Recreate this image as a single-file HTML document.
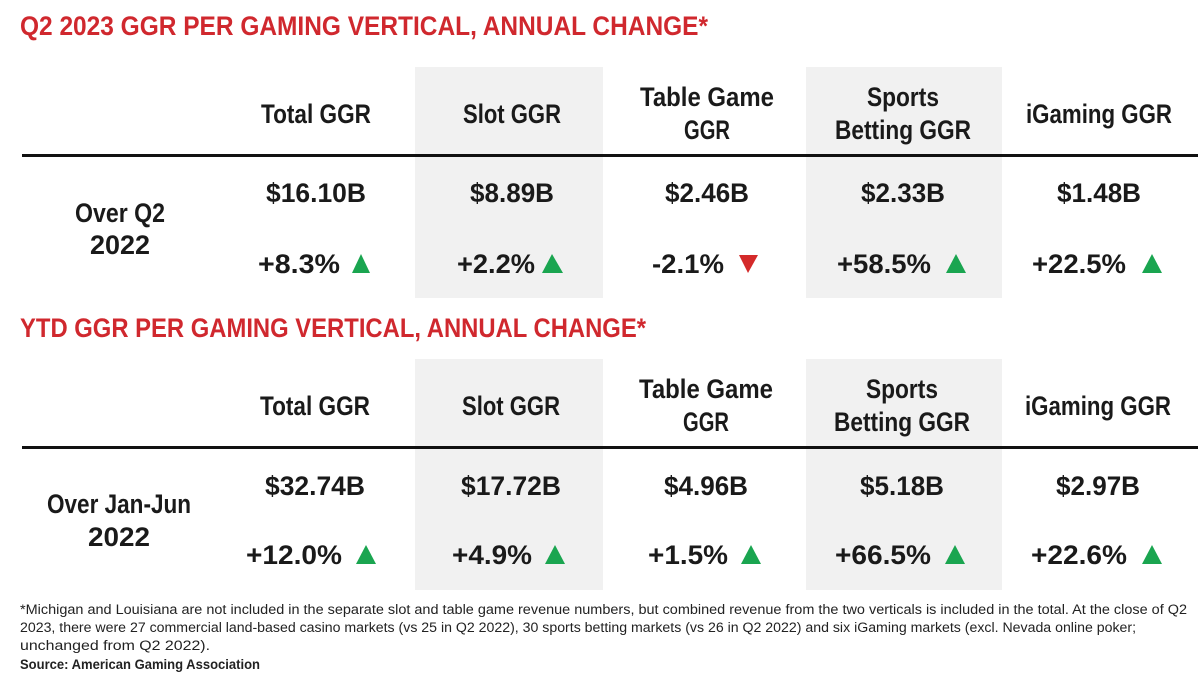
<!DOCTYPE html>
<html><head><meta charset="utf-8"><style>
html,body{margin:0;padding:0;background:#fff;}
svg{display:block;}
text{font-family:"Liberation Sans Narrow","Liberation Sans",sans-serif;font-weight:bold;fill:#1a1a1a;}
.t{fill:#d0282e;font-size:27px;}
.h{font-size:27px;text-anchor:middle;}
.v{font-size:27px;text-anchor:middle;}
.f{font-weight:normal;font-size:13.5px;fill:#222;}
</style></head><body>
<svg width="1200" height="686" viewBox="0 0 1200 686" xmlns="http://www.w3.org/2000/svg">
<rect x="415" y="67" width="188" height="231" fill="#f1f1f1"/>
<rect x="806" y="67" width="196" height="231" fill="#f1f1f1"/>
<rect x="415" y="359" width="188" height="231" fill="#f1f1f1"/>
<rect x="806" y="359" width="196" height="231" fill="#f1f1f1"/>
<rect x="22" y="154" width="1176" height="3" fill="#111"/>
<rect x="22" y="446" width="1176" height="3" fill="#111"/>

<text class="t" x="20" y="35" textLength="688" lengthAdjust="spacingAndGlyphs">Q2 2023 GGR PER GAMING VERTICAL, ANNUAL CHANGE*</text>
<text class="h" x="316" y="123" textLength="110" lengthAdjust="spacingAndGlyphs">Total GGR</text>
<text class="h" x="512" y="123" textLength="98" lengthAdjust="spacingAndGlyphs">Slot GGR</text>
<text class="h" x="707" y="106" textLength="134" lengthAdjust="spacingAndGlyphs">Table Game</text>
<text class="h" x="707" y="139" textLength="46" lengthAdjust="spacingAndGlyphs">GGR</text>
<text class="h" x="903" y="106" textLength="72" lengthAdjust="spacingAndGlyphs">Sports</text>
<text class="h" x="903" y="139" textLength="136" lengthAdjust="spacingAndGlyphs">Betting GGR</text>
<text class="h" x="1099" y="123" textLength="146" lengthAdjust="spacingAndGlyphs">iGaming GGR</text>
<text class="h" x="120" y="222" textLength="90" lengthAdjust="spacingAndGlyphs">Over Q2</text>
<text class="h" x="120" y="254" textLength="60" lengthAdjust="spacingAndGlyphs">2022</text>

<text class="v" x="316" y="202" textLength="100" lengthAdjust="spacingAndGlyphs">$16.10B</text>
<text class="v" x="512" y="202" textLength="84" lengthAdjust="spacingAndGlyphs">$8.89B</text>
<text class="v" x="707" y="202" textLength="84" lengthAdjust="spacingAndGlyphs">$2.46B</text>
<text class="v" x="903" y="202" textLength="84" lengthAdjust="spacingAndGlyphs">$2.33B</text>
<text class="v" x="1099" y="202" textLength="84" lengthAdjust="spacingAndGlyphs">$1.48B</text>

<text class="v" x="299" y="273" textLength="82" lengthAdjust="spacingAndGlyphs">+8.3%</text>
<polygon points="352,273 370,273 361,254" fill="#1aa550"/>
<text class="v" x="496" y="273" textLength="78" lengthAdjust="spacingAndGlyphs">+2.2%</text>
<polygon points="542,273 563,273 552,254" fill="#1aa550"/>
<text class="v" x="688" y="273" textLength="72" lengthAdjust="spacingAndGlyphs">-2.1%</text>
<polygon points="739,255 758,255 748,273" fill="#d42a2a"/>
<text class="v" x="884" y="273" textLength="94" lengthAdjust="spacingAndGlyphs">+58.5%</text>
<polygon points="946,273 966,273 956,254" fill="#1aa550"/>
<text class="v" x="1079" y="273" textLength="94" lengthAdjust="spacingAndGlyphs">+22.5%</text>
<polygon points="1142,273 1162,273 1152,254" fill="#1aa550"/>

<text class="t" x="20" y="337" textLength="626" lengthAdjust="spacingAndGlyphs">YTD GGR PER GAMING VERTICAL, ANNUAL CHANGE*</text>
<text class="h" x="315" y="415" textLength="110" lengthAdjust="spacingAndGlyphs">Total GGR</text>
<text class="h" x="511" y="415" textLength="98" lengthAdjust="spacingAndGlyphs">Slot GGR</text>
<text class="h" x="706" y="398" textLength="134" lengthAdjust="spacingAndGlyphs">Table Game</text>
<text class="h" x="706" y="431" textLength="46" lengthAdjust="spacingAndGlyphs">GGR</text>
<text class="h" x="902" y="398" textLength="72" lengthAdjust="spacingAndGlyphs">Sports</text>
<text class="h" x="902" y="431" textLength="136" lengthAdjust="spacingAndGlyphs">Betting GGR</text>
<text class="h" x="1098" y="415" textLength="146" lengthAdjust="spacingAndGlyphs">iGaming GGR</text>
<text class="h" x="119" y="513" textLength="144" lengthAdjust="spacingAndGlyphs">Over Jan-Jun</text>
<text class="h" x="119" y="546" textLength="62" lengthAdjust="spacingAndGlyphs">2022</text>

<text class="v" x="315" y="495" textLength="100" lengthAdjust="spacingAndGlyphs">$32.74B</text>
<text class="v" x="511" y="495" textLength="100" lengthAdjust="spacingAndGlyphs">$17.72B</text>
<text class="v" x="706" y="495" textLength="84" lengthAdjust="spacingAndGlyphs">$4.96B</text>
<text class="v" x="902" y="495" textLength="84" lengthAdjust="spacingAndGlyphs">$5.18B</text>
<text class="v" x="1098" y="495" textLength="84" lengthAdjust="spacingAndGlyphs">$2.97B</text>

<text class="v" x="294" y="564" textLength="96" lengthAdjust="spacingAndGlyphs">+12.0%</text>
<polygon points="356,564 376,564 366,545" fill="#1aa550"/>
<text class="v" x="492" y="564" textLength="80" lengthAdjust="spacingAndGlyphs">+4.9%</text>
<polygon points="545,564 565,564 555,545" fill="#1aa550"/>
<text class="v" x="688" y="564" textLength="80" lengthAdjust="spacingAndGlyphs">+1.5%</text>
<polygon points="741,564 761,564 751,545" fill="#1aa550"/>
<text class="v" x="883" y="564" textLength="96" lengthAdjust="spacingAndGlyphs">+66.5%</text>
<polygon points="945,564 965,564 955,545" fill="#1aa550"/>
<text class="v" x="1079" y="564" textLength="96" lengthAdjust="spacingAndGlyphs">+22.6%</text>
<polygon points="1142,564 1162,564 1152,545" fill="#1aa550"/>

<text class="f" x="20" y="614" textLength="1167" lengthAdjust="spacingAndGlyphs">*Michigan and Louisiana are not included in the separate slot and table game revenue numbers, but combined revenue from the two verticals is included in the total. At the close of Q2</text>
<text class="f" x="20" y="632" textLength="1116" lengthAdjust="spacingAndGlyphs">2023, there were 27 commercial land-based casino markets (vs 25 in Q2 2022), 30 sports betting markets (vs 26 in Q2 2022) and six iGaming markets (excl. Nevada online poker;</text>
<text class="f" x="20" y="650" textLength="190" lengthAdjust="spacingAndGlyphs">unchanged from Q2 2022).</text>
<text class="f" x="20" y="669" style="font-weight:bold" textLength="240" lengthAdjust="spacingAndGlyphs">Source: American Gaming Association</text>
</svg>
</body></html>
